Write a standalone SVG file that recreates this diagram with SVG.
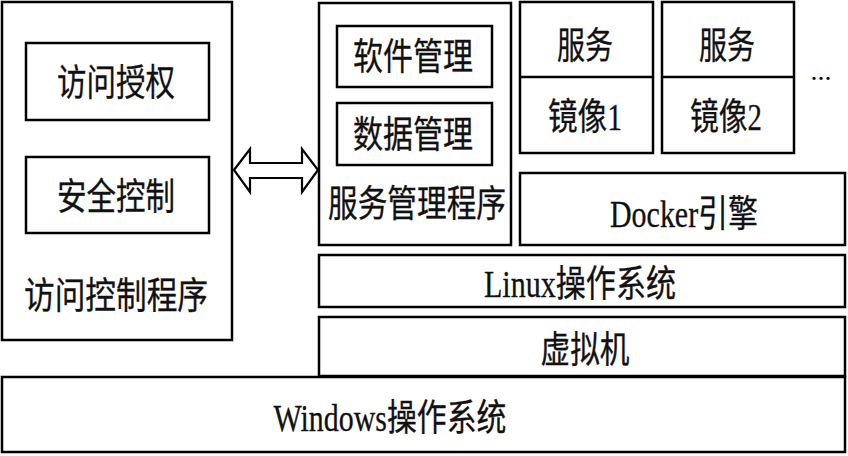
<svg xmlns="http://www.w3.org/2000/svg" width="848" height="456" viewBox="0 0 848 456">
<style>
.b{fill:#fff;stroke:#000;stroke-width:2.5}
.t{font-family:"Liberation Serif","Noto Sans CJK SC",serif;font-size:37px;fill:#111;stroke:#111;stroke-width:0.3;text-anchor:middle}
</style>
<rect width="848" height="456" fill="#fff"/>
<g id="access-program">
<rect class="b" x="2" y="2" width="230" height="338"/>
<text class="t" x="116" y="309" textLength="184" lengthAdjust="spacingAndGlyphs">访问控制程序</text>
</g>
<g id="access-auth">
<rect class="b" x="26" y="43" width="183" height="77"/>
<text class="t" x="116" y="96" textLength="118" lengthAdjust="spacingAndGlyphs">访问授权</text>
</g>
<g id="security">
<rect class="b" x="26" y="157" width="183" height="76"/>
<text class="t" x="116" y="210" textLength="118" lengthAdjust="spacingAndGlyphs">安全控制</text>
</g>
<g id="service-program">
<rect class="b" x="319" y="3" width="192" height="242"/>
<text class="t" x="417" y="217" textLength="178" lengthAdjust="spacingAndGlyphs">服务管理程序</text>
</g>
<g id="software-mgmt">
<rect class="b" x="337" y="26" width="155" height="61"/>
<text class="t" x="413" y="70" textLength="120" lengthAdjust="spacingAndGlyphs">软件管理</text>
</g>
<g id="data-mgmt">
<rect class="b" x="337" y="103" width="155" height="62"/>
<text class="t" x="413" y="148" textLength="120" lengthAdjust="spacingAndGlyphs">数据管理</text>
</g>
<g id="image1">
<rect class="b" x="520" y="2" width="133" height="151"/>
<line x1="520" y1="77" x2="653" y2="77" stroke="#000" stroke-width="2.5"/>
<text class="t" x="585" y="59" textLength="56" lengthAdjust="spacingAndGlyphs">服务</text>
<text class="t" x="585" y="130" textLength="74" lengthAdjust="spacingAndGlyphs">镜像1</text>
</g>
<g id="image2">
<rect class="b" x="662" y="2" width="132" height="151"/>
<line x1="662" y1="77" x2="794" y2="77" stroke="#000" stroke-width="2.5"/>
<text class="t" x="727" y="59" textLength="56" lengthAdjust="spacingAndGlyphs">服务</text>
<text class="t" x="726" y="130" textLength="72" lengthAdjust="spacingAndGlyphs">镜像2</text>
</g>
<g id="more">
<text x="821" y="80" font-family="Liberation Serif" font-size="28" text-anchor="middle" fill="#111">...</text>
</g>
<g id="docker">
<rect class="b" x="520" y="173" width="325" height="72"/>
<text class="t" x="684" y="227" textLength="148" lengthAdjust="spacingAndGlyphs">Docker引擎</text>
</g>
<g id="linux">
<rect class="b" x="319" y="255" width="526" height="52"/>
<text class="t" x="580" y="297" textLength="192" lengthAdjust="spacingAndGlyphs">Linux操作系统</text>
</g>
<g id="vm">
<rect class="b" x="319" y="317" width="526" height="59"/>
<text class="t" x="585" y="363" textLength="89" lengthAdjust="spacingAndGlyphs">虚拟机</text>
</g>
<g id="windows">
<rect class="b" x="2" y="377" width="843" height="75"/>
<text class="t" x="390" y="431" textLength="233" lengthAdjust="spacingAndGlyphs">Windows操作系统</text>
</g>
<g id="connectors">
<polygon points="234,170 250,149 250,163 302,163 302,149 318,170 302,192 302,178 250,178 250,192" fill="#fff" stroke="#000" stroke-width="2.2" stroke-linejoin="miter"/>
</g>
</svg>
